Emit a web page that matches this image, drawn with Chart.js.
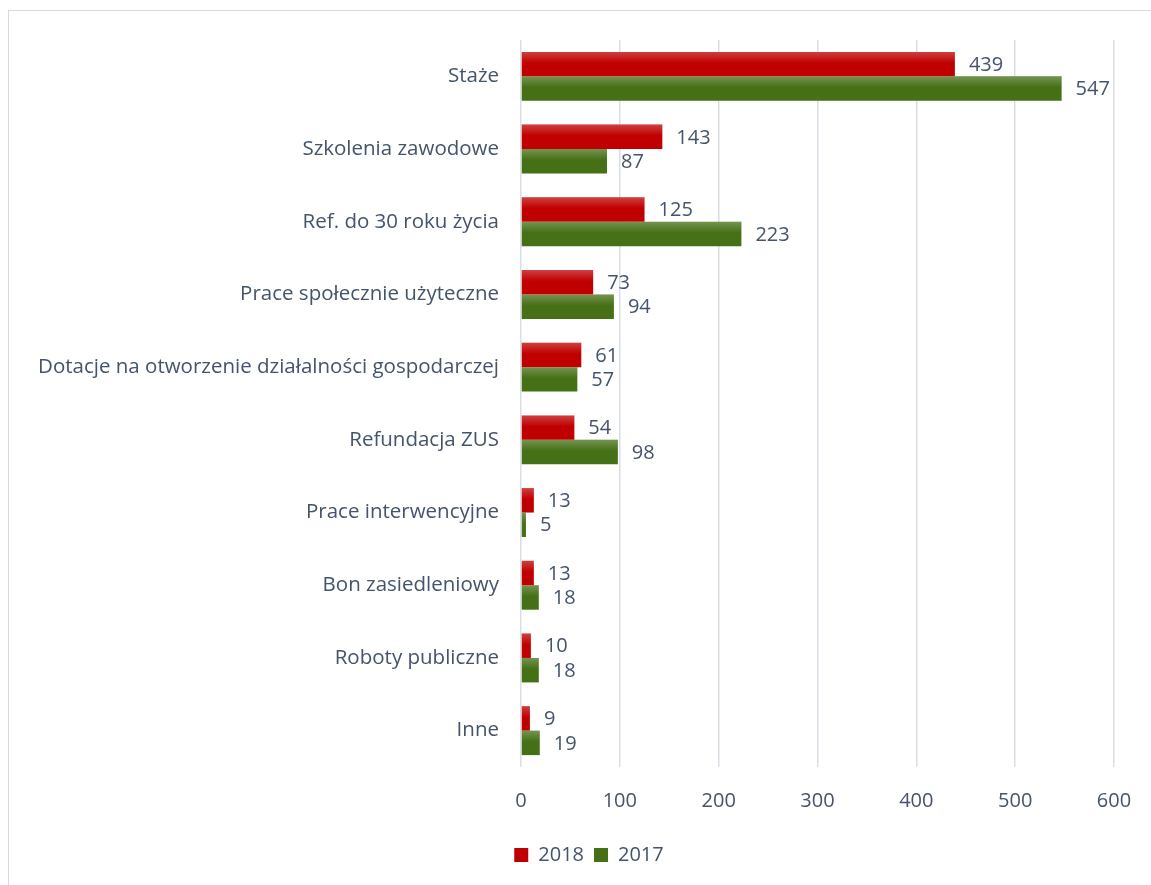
<!DOCTYPE html>
<html>
<head>
<meta charset="utf-8">
<script src="https://cdn.jsdelivr.net/npm/chart.js@4"></script>
<style>
  html, body { margin: 0; padding: 0; background: #fff; overflow: hidden; }
  #ramka { position: absolute; left: 8px; top: 10px; width: 1200px; height: 950px; border: 1px solid #d9d9d9; box-sizing: border-box; }
  #box { position: absolute; left: 0; top: 0; width: 1151px; height: 885px; }
</style>
</head>
<body>
<div id="ramka"></div>
<div id="box"><canvas id="wykres"></canvas></div>
<script>
const kategorie = [
  "Staże",
  "Szkolenia zawodowe",
  "Ref. do 30 roku życia",
  "Prace społecznie użyteczne",
  "Dotacje na otworzenie działalności gospodarczej",
  "Refundacja ZUS",
  "Prace interwencyjne",
  "Bon zasiedleniowy",
  "Roboty publiczne",
  "Inne"
]
const wartosci2018 = [439, 143, 125, 73, 61, 54, 13, 13, 10, 9]
const wartosci2017 = [547, 87, 223, 94, 57, 98, 5, 18, 18, 19]
const etykietyX = [0, 100, 200, 300, 400, 500, 600]

const kolorTekstu = "#44546a"
const czcionka = "'Open Sans', sans-serif"

// jasniejszy pasek u gory slupka + wartosci przy slupkach
const slupkiPlugin = {
  id: "slupki",
  afterLayout(chart) {
    // legenda troche w prawo, jak w oryginale
    if (chart.legend) {
      chart.legend.left += 32
      chart.legend.right += 32
    }
  },
  afterDatasetsDraw(chart) {
    const { ctx } = chart
    ctx.save()
    chart.data.datasets.forEach((ds, i) => {
      chart.getDatasetMeta(i).data.forEach((bar) => {
        const top = bar.y - bar.height / 2
        const g = ctx.createLinearGradient(0, top, 0, top + bar.height)
        g.addColorStop(0, "rgba(255,255,255,0.25)")
        g.addColorStop(0.45, "rgba(255,255,255,0)")
        g.addColorStop(1, "rgba(255,255,255,0)")
        ctx.fillStyle = g
        ctx.fillRect(bar.base, top, bar.x - bar.base, bar.height)
      })
    })
    ctx.font = "20px " + czcionka
    ctx.fillStyle = kolorTekstu
    ctx.textAlign = "left"
    ctx.textBaseline = "middle"
    chart.data.datasets.forEach((ds, i) => {
      chart.getDatasetMeta(i).data.forEach((bar, j) => {
        ctx.fillText(ds.data[j], bar.x + 14, bar.y + 1)
      })
    })
    ctx.restore()
  }
}

new Chart(document.getElementById("wykres"), {
  type: "bar",
  data: {
    labels: kategorie,
    datasets: [
      { label: "2018", data: wartosci2018, backgroundColor: "#c00000", borderWidth: 0 },
      { label: "2017", data: wartosci2017, backgroundColor: "#467016", borderWidth: 0 }
    ]
  },
  options: {
    indexAxis: "y",
    responsive: true,
    maintainAspectRatio: false,
    animation: false,
    categoryPercentage: 0.673,
    barPercentage: 1.0,
    layout: { padding: { top: 40, right: 37, bottom: 10, left: 0 } },
    scales: {
      x: {
        min: 0,
        max: 600,
        afterBuildTicks: (s) => { s.ticks = etykietyX.map(v => ({ value: v })) },
        afterFit: (s) => { s.paddingRight = 0; s.paddingLeft = 0 },
        grid: { color: "#d9dde6", lineWidth: 1.5, drawTicks: false },
        border: { display: false },
        ticks: { color: kolorTekstu, font: { family: czcionka, size: 20 }, padding: 22 }
      },
      y: {
        afterFit: (s) => { s.width = 521 },
        grid: { display: false, drawTicks: false },
        border: { display: false },
        ticks: { color: kolorTekstu, font: { family: czcionka, size: 20.5 }, padding: 22, autoSkip: false }
      }
    },
    plugins: {
      legend: {
        position: "bottom",
        labels: {
          color: kolorTekstu,
          font: { family: czcionka, size: 20 },
          boxWidth: 14,
          boxHeight: 14,
          padding: 10,
          generateLabels: (chart) => chart.data.datasets.map((ds, i) => ({
            text: ds.label,
            fillStyle: ds.backgroundColor,
            strokeStyle: "transparent",
            lineWidth: 0,
            datasetIndex: i,
            fontColor: kolorTekstu
          }))
        }
      },
      tooltip: { enabled: false }
    }
  },
  plugins: [slupkiPlugin]
})
</script>
</body>
</html>
